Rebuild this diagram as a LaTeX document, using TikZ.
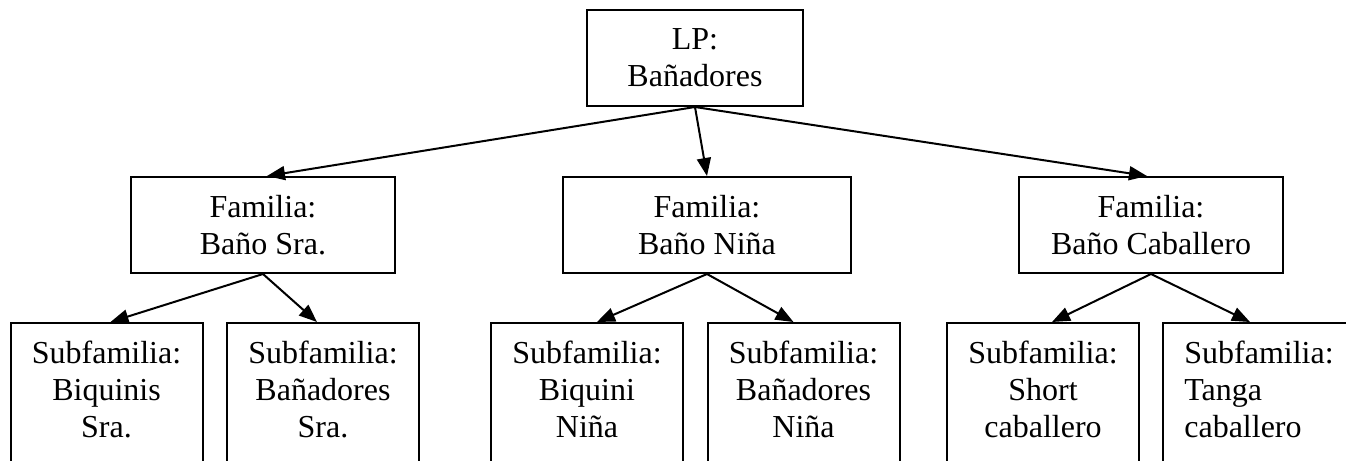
\documentclass[tikz,border=0pt]{standalone}
\usepackage{fontspec}
\setmainfont{Liberation Serif}
\usepackage{tikz}
\usetikzlibrary{arrows.meta}
\tikzset{box/.style={rectangle, draw, line width=1pt, align=center, inner sep=0pt,
   font=\fontsize{16}{18.5}\selectfont}}
\tikzset{lpbox/.style={box, minimum width=108pt, minimum height=48pt}}
\tikzset{fambox/.style={box, minimum width=132pt, minimum height=48pt}}
\tikzset{subbox/.style={box, anchor=north, minimum width=96pt,
   inner ysep=9pt, text depth=40pt}}
\tikzset{link/.style={-{Triangle[length=9pt,width=7pt]}, line width=1pt}}

\begin{document}
\begin{tikzpicture}[x=0.5pt, y=-0.5pt]

    \useasboundingbox (0,0) rectangle (1346,461);

    \node[lpbox] (lp) at (695,58) {LP:\\Bañadores};

    \node[fambox] (fsra) at (263,225) {Familia:\\Baño Sra.};
    \node[fambox, minimum width=144pt] (fnina) at (707,225) {Familia:\\Baño Niña};
    \node[fambox] (fcab) at (1151,225) {Familia:\\Baño Caballero};

    \node[subbox] (sbiqsra)   at (106.5,322) {Subfamilia:\\Biquinis\\Sra.};
    \node[subbox] (sbansra)   at (323,322)   {Subfamilia:\\Bañadores\\Sra.};
    \node[subbox] (sbiqnina)  at (587,322)   {Subfamilia:\\Biquini\\Niña};
    \node[subbox] (sbannina)  at (803.5,322) {Subfamilia:\\Bañadores\\Niña};
    \node[subbox] (sshort)    at (1043,322)  {Subfamilia:\\Short\\caballero};
    \node[subbox, align=left] (stanga) at (1259,322) {Subfamilia:\\Tanga\\caballero};

    \draw[link] (lp.south) -- ([xshift=2pt]fsra.north);
    \draw[link] (lp.south) -- (fnina.north);
    \draw[link] (lp.south) -- ([xshift=-2pt]fcab.north);

    \draw[link] (fsra.south) -- ([xshift=2pt]sbiqsra.north);
    \draw[link] (fsra.south) -- ([xshift=-3pt]sbansra.north);
    \draw[link] (fnina.south) -- ([xshift=5pt]sbiqnina.north);
    \draw[link] (fnina.south) -- ([xshift=-5pt]sbannina.north);
    \draw[link] (fcab.south) -- ([xshift=4.5pt]sshort.north);
    \draw[link] (fcab.south) -- ([xshift=-4.5pt]stanga.north);

  \end{tikzpicture}
\end{document}
